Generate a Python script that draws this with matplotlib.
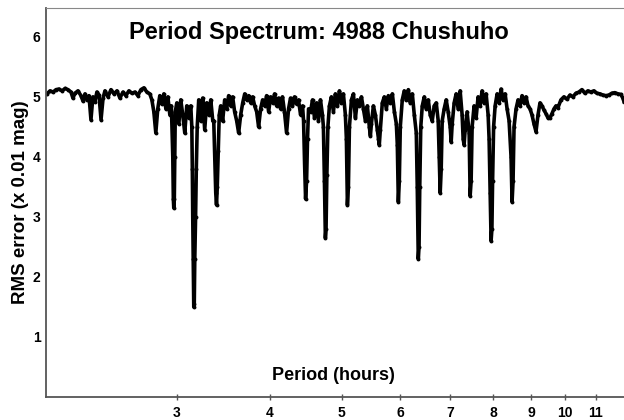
import matplotlib
matplotlib.use("Agg")
import matplotlib.pyplot as plt

plt.rcParams['font.family'] = ['Liberation Sans', 'DejaVu Sans']

period = [
    2.006, 2.025, 2.045, 2.063, 2.082, 2.102, 2.122, 2.141, 2.161, 2.174,
    2.188, 2.208, 2.229, 2.243, 2.257, 2.270, 2.285, 2.299, 2.313, 2.327,
    2.342, 2.357, 2.372, 2.387, 2.401, 2.424, 2.446, 2.469, 2.492, 2.515,
    2.539, 2.562, 2.586, 2.610, 2.635, 2.659, 2.684, 2.709, 2.734, 2.759,
    2.777, 2.794, 2.811, 2.828, 2.846, 2.864, 2.882, 2.900, 2.918, 2.936,
    2.950, 2.963, 2.968, 2.972, 2.977, 2.981, 2.986,
    3.000, 3.019, 3.037, 3.056, 3.075, 3.094, 3.113, 3.133,
    3.143, 3.148, 3.152, 3.157, 3.162, 3.167, 3.172, 3.180, 3.187, 3.196, 3.211,
    3.231, 3.251, 3.271, 3.291, 3.312, 3.333, 3.354,
    3.364, 3.375, 3.385, 3.393, 3.401, 3.412, 3.422,
    3.437, 3.458, 3.480, 3.501, 3.523, 3.545, 3.567, 3.589, 3.612, 3.634,
    3.657, 3.680, 3.703, 3.726, 3.749, 3.772, 3.795, 3.819, 3.843, 3.866,
    3.890, 3.914, 3.938, 3.963, 3.988, 4.012, 4.037, 4.062, 4.087, 4.112,
    4.138, 4.163, 4.189, 4.216, 4.242, 4.268, 4.294, 4.321, 4.348, 4.375,
    4.403, 4.430,
    4.444, 4.458, 4.472, 4.486, 4.499, 4.513,
    4.541, 4.569, 4.597, 4.626, 4.654, 4.683, 4.712,
    4.726, 4.741, 4.755, 4.765, 4.777, 4.792,
    4.815, 4.845, 4.875, 4.905, 4.936, 4.967, 4.997, 5.028, 5.059,
    5.075, 5.091, 5.107, 5.123,
    5.155, 5.187, 5.219, 5.252, 5.284, 5.317, 5.350, 5.383, 5.416, 5.449,
    5.467, 5.484, 5.518, 5.552, 5.585, 5.603, 5.620, 5.638, 5.673, 5.708,
    5.744, 5.780, 5.816, 5.852, 5.889, 5.925,
    5.943, 5.962, 5.980, 5.998,
    6.035, 6.072, 6.110, 6.149, 6.187, 6.226, 6.264, 6.303,
    6.322, 6.342, 6.357, 6.371, 6.391,
    6.421, 6.461, 6.501, 6.541, 6.581, 6.622, 6.663, 6.705, 6.746,
    6.767, 6.788, 6.809, 6.830,
    6.872, 6.915, 6.958, 7.001, 7.023, 7.045, 7.088, 7.132, 7.176, 7.221,
    7.265, 7.288, 7.310, 7.333, 7.378,
    7.425, 7.448, 7.471, 7.494,
    7.540, 7.587, 7.634, 7.682, 7.729, 7.777, 7.826, 7.875,
    7.899, 7.924, 7.948, 7.968, 7.985, 8.010,
    8.048, 8.098, 8.148, 8.198, 8.249, 8.301, 8.352, 8.404,
    8.455, 8.482, 8.508, 8.534,
    8.587, 8.641, 8.694, 8.748, 8.802, 8.857, 8.912, 8.967, 9.022, 9.078,
    9.135, 9.192, 9.249, 9.306, 9.364, 9.422, 9.480, 9.539, 9.598, 9.658,
    9.718, 9.778, 9.869, 9.961, 10.054, 10.148, 10.242, 10.337, 10.434, 10.532,
    10.630, 10.729, 10.829, 10.929, 11.031, 11.135, 11.238, 11.345, 11.450, 11.556,
    11.664, 11.773, 11.883, 11.956, 12.000,
]

rms = [
    5.05, 5.10, 5.08, 5.12, 5.13, 5.10, 5.14, 5.12, 5.08, 4.98,
    5.06, 5.10, 5.02, 4.93, 5.05, 4.95, 5.02, 4.62, 5.00, 4.92,
    5.08, 5.03, 4.62, 4.98, 5.10, 5.00, 5.12, 5.05, 5.10, 4.98,
    5.08, 5.02, 5.10, 5.06, 5.08, 5.02, 5.12, 5.15, 5.08, 5.05,
    4.95, 4.75, 4.40, 4.80, 5.02, 4.88, 5.05, 4.80, 5.00, 4.70,
    4.85, 4.00, 3.30, 3.15, 3.30, 4.00, 4.75,
    4.90, 4.55, 4.95, 4.70, 4.40, 4.85, 4.65, 4.85,
    4.50, 3.80, 3.00, 2.30, 1.50, 1.55, 2.30, 3.00, 3.80, 4.50, 4.95,
    4.60, 4.98, 4.45, 4.90, 4.70, 4.95, 4.60,
    4.60, 4.00, 3.40, 3.20, 3.50, 4.10, 4.70,
    4.85, 4.60, 4.95, 4.80, 5.02, 4.85, 5.00, 4.75, 4.60, 4.40,
    4.70, 4.90, 5.05, 4.95, 5.02, 4.90, 5.00, 4.85, 4.75, 4.50,
    4.80, 4.95, 4.85, 5.02, 4.75, 5.00, 4.90, 5.05, 4.85, 4.98,
    4.80, 5.00, 4.75, 4.40, 4.80, 4.98, 4.85, 5.00, 4.88, 4.95,
    4.70, 4.85,
    4.60, 3.90, 3.30, 3.60, 4.30, 4.80,
    4.75, 4.95, 4.65, 4.90, 4.60, 4.95, 4.70,
    4.50, 3.60, 2.65, 2.80, 3.70, 4.50,
    4.85, 5.00, 4.75, 5.05, 4.85, 5.10, 4.90, 5.05, 4.70,
    4.30, 3.20, 3.50, 4.50,
    4.95, 5.05, 4.65, 4.95, 4.85, 5.00, 4.80, 4.60, 4.85, 4.50,
    4.35, 4.55, 4.85, 4.70, 4.45, 4.30, 4.20, 4.45, 4.90, 5.00,
    4.80, 5.02, 4.90, 5.05, 4.75, 4.55,
    4.20, 3.25, 3.60, 4.50,
    4.95, 5.10, 4.95, 5.12, 4.90, 5.05, 4.70, 4.40,
    3.50, 2.30, 2.50, 3.50, 4.50,
    4.85, 5.00, 4.80, 4.95, 4.70, 4.60, 4.85, 4.90, 4.60,
    4.00, 3.40, 3.80, 4.60,
    4.80, 4.95, 4.75, 4.50, 4.25, 4.55, 4.90, 5.05, 4.80, 5.10,
    4.70, 4.30, 4.20, 4.45, 4.75,
    4.40, 3.35, 3.60, 4.50,
    4.85, 4.65, 5.00, 4.85, 5.10, 4.90, 5.05, 4.70,
    4.30, 3.40, 2.60, 2.80, 3.60, 4.50,
    4.85, 5.05, 4.90, 5.13, 4.95, 5.05, 4.80, 4.60,
    4.00, 3.25, 3.60, 4.50,
    4.80, 4.95, 4.85, 5.02, 4.90, 5.00, 4.85, 4.80, 4.70, 4.55,
    4.42, 4.70, 4.90, 4.85, 4.78, 4.72, 4.65, 4.65, 4.72, 4.80,
    4.85, 4.82, 4.95, 5.00, 4.96, 5.03, 5.00, 5.06, 5.08, 5.12,
    5.06, 5.10, 5.08, 5.10, 5.06, 5.05, 5.03, 5.02, 5.03, 5.06,
    5.07, 5.05, 5.04, 4.98, 4.92,
]

xticks = [3, 4, 5, 6, 7, 8, 9, 10, 11]
yticks = [1, 2, 3, 4, 5, 6]

fig = plt.figure(figsize=(6.24, 4.20), dpi=100)
ax = fig.add_axes([46 / 624, 23 / 420, 578 / 624, 389 / 420])

ax.plot(period, rms, color='black', linewidth=2.6, marker='o',
        markersize=2.8, markeredgewidth=0, solid_joinstyle='round')

ax.set_xscale('log')
ax.set_xlim(2.0, 12.0)
ax.set_ylim(0, 6.48)
ax.set_xticks(xticks)
ax.set_xticklabels([str(t) for t in xticks])
ax.minorticks_off()
ax.set_yticks(yticks)
ax.set_yticklabels([str(t) for t in yticks])

ax.tick_params(axis='x', direction='inout', length=5, width=1, color='#555555',
               pad=4, labelsize=10)
ax.tick_params(axis='y', length=0, pad=4, labelsize=10)
for lab in ax.get_xticklabels() + ax.get_yticklabels():
    lab.set_fontweight('bold')

for side in ['left', 'bottom']:
    ax.spines[side].set_color('#555555')
    ax.spines[side].set_linewidth(1.3)
ax.spines['top'].set_color('#888888')
ax.spines['top'].set_linewidth(0.8)
ax.spines['right'].set_visible(False)

ax.text(0.472, 0.938, 'Period Spectrum: 4988 Chushuho', transform=ax.transAxes,
        ha='center', va='center', fontsize=17, fontweight='bold')
ax.text(0.4965, 0.054, 'Period (hours)', transform=ax.transAxes,
        ha='center', va='center', fontsize=13, fontweight='bold')
ax.set_ylabel('RMS error (x 0.01 mag)', fontsize=13.5, fontweight='bold', labelpad=3)

fig.savefig('out.png', dpi=100)
